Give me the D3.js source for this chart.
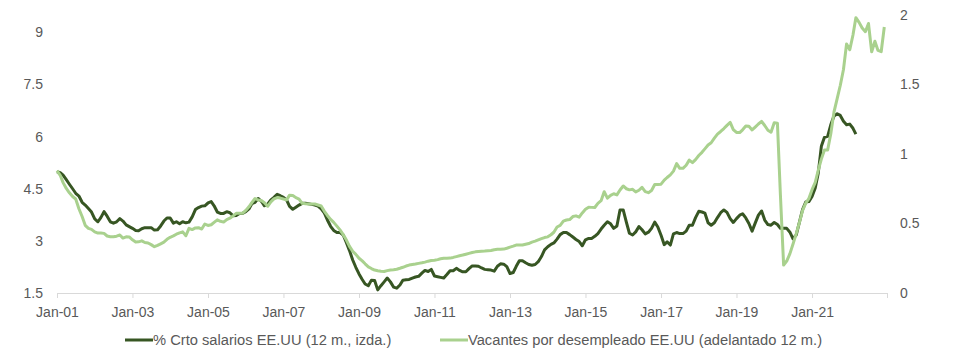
<!DOCTYPE html>
<html lang="es">
<head>
<meta charset="UTF-8">
<title>Salarios y vacantes EE.UU</title>
<script src="https://d3js.org/d3.v7.min.js"></script>
<style>
  body { margin: 0; background: #fff; }
  svg text { font-family: "Liberation Sans", Arial, sans-serif; fill: #595959; }
</style>
</head>
<body>
<svg id="chart" width="968" height="363"></svg>
<script>
// monthly values, first point Jan-2001
const startMonth = new Date(2001, 0, 1);

// % crecimiento salarios EE.UU (12 m.), eje izquierdo
const salarios = [
  4.99, 4.96, 4.89, 4.76, 4.63, 4.50, 4.37, 4.29, 4.11, 4.03, 3.93, 3.83,
  3.63, 3.55, 3.67, 3.84, 3.71, 3.55, 3.51, 3.55, 3.64, 3.57, 3.46, 3.41,
  3.36, 3.30, 3.29, 3.35, 3.38, 3.38, 3.38, 3.31, 3.32, 3.43, 3.57, 3.66,
  3.66, 3.51, 3.55, 3.49, 3.55, 3.52, 3.54, 3.69, 3.90, 3.96, 4.00, 4.01,
  4.09, 4.13, 4.01, 3.83, 3.79, 3.79, 3.84, 3.81, 3.72, 3.73, 3.79, 3.79,
  3.84, 3.92, 4.07, 4.11, 4.22, 4.14, 4.01, 4.06, 4.18, 4.25, 4.34, 4.30,
  4.25, 4.17, 3.99, 3.91, 3.97, 4.03, 4.08, 4.08, 4.07, 4.05, 4.03, 4.00,
  3.92, 3.80, 3.60, 3.42, 3.30, 3.24, 3.24, 3.17, 2.95, 2.72, 2.45, 2.24,
  2.05, 1.89, 1.76, 1.71, 1.87, 1.86, 1.59, 1.71, 1.82, 1.93, 1.82, 1.67,
  1.64, 1.73, 1.87, 1.88, 1.89, 1.93, 1.96, 1.98, 2.07, 2.15, 2.12, 2.18,
  1.99, 1.97, 1.95, 1.93, 2.03, 2.14, 2.14, 2.21, 2.15, 2.11, 2.11, 2.20,
  2.28, 2.28, 2.27, 2.22, 2.18, 2.17, 2.16, 2.13, 2.27, 2.34, 2.33, 2.26,
  2.06, 2.09, 2.26, 2.43, 2.43, 2.37, 2.32, 2.30, 2.32, 2.40, 2.55, 2.74,
  2.83, 2.90, 2.94, 3.05, 3.18, 3.24, 3.24, 3.18, 3.11, 3.04, 2.98, 2.86,
  3.03, 3.07, 3.07, 3.13, 3.21, 3.34, 3.45, 3.55, 3.49, 3.36, 3.43, 3.89,
  3.89, 3.53, 3.22, 3.17, 3.26, 3.41, 3.32, 3.20, 3.25, 3.36, 3.54, 3.40,
  3.16, 2.89, 2.97, 2.88, 3.20, 3.24, 3.21, 3.21, 3.28, 3.45, 3.45, 3.67,
  3.85, 3.83, 3.80, 3.52, 3.45, 3.52, 3.67, 3.81, 3.89, 3.82, 3.64, 3.53,
  3.64, 3.74, 3.78, 3.66, 3.50, 3.28, 3.51, 3.74, 3.86, 3.60, 3.47, 3.45,
  3.53, 3.47, 3.36, 3.36, 3.36, 3.25, 3.06, 3.17, 3.54, 3.90, 4.12, 4.13,
  4.28, 4.52, 4.93, 5.72, 5.98, 6.01, 6.34, 6.59, 6.66, 6.61, 6.44, 6.34,
  6.36, 6.24, 6.07
];

// vacantes por desempleado EE.UU (adelantado 12 m.), eje derecho
const vacantes = [
  0.880, 0.847, 0.794, 0.752, 0.721, 0.694, 0.676, 0.606, 0.550, 0.487, 0.465, 0.458,
  0.440, 0.431, 0.432, 0.429, 0.410, 0.405, 0.405, 0.409, 0.417, 0.395, 0.404, 0.403,
  0.383, 0.367, 0.368, 0.375, 0.363, 0.360, 0.348, 0.333, 0.343, 0.354, 0.366, 0.386,
  0.401, 0.411, 0.423, 0.433, 0.440, 0.412, 0.465, 0.456, 0.468, 0.470, 0.460, 0.496,
  0.486, 0.491, 0.508, 0.526, 0.516, 0.510, 0.528, 0.538, 0.555, 0.573, 0.573, 0.573,
  0.594, 0.620, 0.650, 0.680, 0.669, 0.665, 0.650, 0.624, 0.656, 0.677, 0.687, 0.683,
  0.676, 0.670, 0.704, 0.702, 0.686, 0.676, 0.645, 0.642, 0.640, 0.640, 0.640, 0.633,
  0.626, 0.588, 0.558, 0.530, 0.508, 0.481, 0.454, 0.420, 0.381, 0.335, 0.300, 0.278,
  0.250, 0.231, 0.210, 0.188, 0.176, 0.165, 0.160, 0.156, 0.155, 0.161, 0.166, 0.168,
  0.171, 0.178, 0.185, 0.194, 0.201, 0.205, 0.208, 0.213, 0.217, 0.222, 0.229, 0.234,
  0.236, 0.240, 0.246, 0.250, 0.250, 0.251, 0.256, 0.262, 0.268, 0.273, 0.279, 0.285,
  0.291, 0.296, 0.299, 0.301, 0.302, 0.304, 0.306, 0.311, 0.314, 0.314, 0.316, 0.322,
  0.330, 0.337, 0.345, 0.345, 0.345, 0.351, 0.356, 0.366, 0.373, 0.382, 0.391, 0.399,
  0.404, 0.419, 0.437, 0.475, 0.486, 0.517, 0.525, 0.528, 0.550, 0.555, 0.545, 0.576,
  0.602, 0.617, 0.616, 0.615, 0.645, 0.664, 0.729, 0.683, 0.703, 0.714, 0.706, 0.741,
  0.770, 0.750, 0.742, 0.746, 0.727, 0.739, 0.760, 0.729, 0.722, 0.737, 0.781, 0.781,
  0.783, 0.812, 0.831, 0.850, 0.877, 0.931, 0.897, 0.897, 0.919, 0.956, 0.938, 0.960,
  0.989, 1.012, 1.037, 1.065, 1.081, 1.114, 1.143, 1.162, 1.183, 1.206, 1.227, 1.176,
  1.155, 1.154, 1.174, 1.201, 1.199, 1.173, 1.194, 1.216, 1.235, 1.205, 1.171, 1.157,
  1.225, 1.222, 0.705, 0.201, 0.230, 0.283, 0.353, 0.427, 0.508, 0.593, 0.646, 0.679,
  0.743, 0.796, 0.880, 0.963, 1.029, 1.029, 1.144, 1.301, 1.399, 1.493, 1.608, 1.792,
  1.750, 1.856, 1.981, 1.947, 1.906, 1.880, 1.939, 1.735, 1.811, 1.745, 1.736, 1.914
];

const leftTicks = [1.5, 3, 4.5, 6, 7.5, 9];
const rightTicks = [0, 0.5, 1, 1.5, 2];
const xTickYears = [2001, 2003, 2005, 2007, 2009, 2011, 2013, 2015, 2017, 2019, 2021];
const legendLabels = ["% Crto salarios EE.UU (12 m., izda.)", "Vacantes por desempleado EE.UU (adelantado 12 m.)"];

const colorSalarios = "#375623";
const colorVacantes = "#a9d18e";

const svg = d3.select("#chart");

const x = d3.scaleTime()
  .domain([startMonth, new Date(2023, 0, 1)])
  .range([57, 887.5]);
const yLeft = d3.scaleLinear().domain([1.5, 9.5]).range([293, 15]);
const yRight = d3.scaleLinear().domain([0, 2]).range([293, 15]);

const monthDate = i => d3.timeMonth.offset(startMonth, i);

// x axis
const xAxis = d3.axisBottom(x)
  .tickValues(xTickYears.map(yr => new Date(yr, 0, 1)))
  .tickFormat(d3.timeFormat("Jan-%y"))
  .tickSize(5)
  .tickSizeOuter(0);

const gx = svg.append("g")
  .attr("transform", "translate(0,293)")
  .call(xAxis);
gx.select(".domain").attr("stroke", "#d9d9d9").attr("d", "M57,0.5H887.5");
gx.selectAll(".tick line").attr("stroke", "#d9d9d9");
gx.append("line").attr("x1", 887.5).attr("x2", 887.5).attr("y1", 0).attr("y2", 5).attr("stroke", "#d9d9d9");
gx.selectAll(".tick text").attr("dy", 0).attr("y", 24).style("font-size", "14px").attr("fill", "#595959");

// left axis
const gl = svg.append("g")
  .attr("transform", "translate(43,0)")
  .call(d3.axisLeft(yLeft).tickValues(leftTicks).tickSize(0).tickPadding(0).tickFormat(d3.format("")));
gl.select(".domain").remove();
gl.selectAll("text").style("font-size", "14px").attr("fill", "#595959");

// right axis
const gr = svg.append("g")
  .attr("transform", "translate(900,0)")
  .call(d3.axisRight(yRight).tickValues(rightTicks).tickSize(0).tickPadding(0).tickFormat(d3.format("")));
gr.select(".domain").remove();
gr.selectAll("text").style("font-size", "14px").attr("fill", "#595959");

// lines
const lineLeft = d3.line().x((d, i) => x(monthDate(i))).y(d => yLeft(d));
const lineRight = d3.line().x((d, i) => x(monthDate(i))).y(d => yRight(d));

svg.append("path")
  .datum(salarios)
  .attr("fill", "none")
  .attr("stroke", colorSalarios)
  .attr("stroke-width", 3)
  .attr("stroke-linejoin", "round")
  .attr("d", lineLeft);

svg.append("path")
  .datum(vacantes)
  .attr("fill", "none")
  .attr("stroke", colorVacantes)
  .attr("stroke-width", 3)
  .attr("stroke-linejoin", "round")
  .attr("d", lineRight);

// legend
const legend = svg.append("g").attr("transform", "translate(0,340)");
const legendItems = [
  { label: legendLabels[0], color: colorSalarios, x: 125 },
  { label: legendLabels[1], color: colorVacantes, x: 440 }
];
legendItems.forEach(item => {
  legend.append("line")
    .attr("x1", item.x).attr("x2", item.x + 28)
    .attr("y1", 0).attr("y2", 0)
    .attr("stroke", item.color).attr("stroke-width", 3);
  legend.append("text")
    .attr("x", item.x + 28)
    .attr("y", 0)
    .attr("dy", "0.35em")
    .style("font-size", "14.7px")
    .text(item.label);
});
</script>
</body>
</html>
